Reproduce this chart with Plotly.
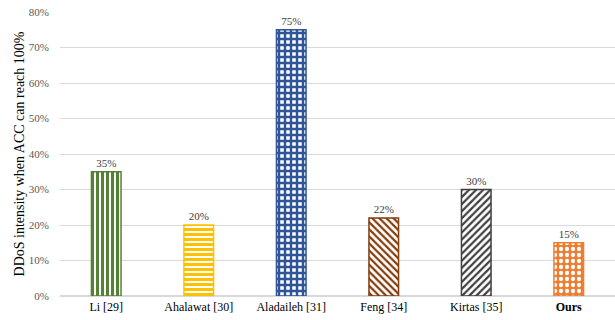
import plotly.graph_objects as go

# Comparison of DDoS intensity thresholds across methods
methods = ["Li [29]", "Ahalawat [30]", "Aladaileh [31]", "Feng [34]", "Kirtas [35]", "<b>Ours</b>"]
intensity = [35, 20, 75, 22, 30, 15]

colors = ["#548235", "#FFC000", "#2F5597", "#843C0C", "#404040", "#ED7D31"]
shapes = ["|", "-", "+", "\\", "/", "."]
bg = ["white", "white", "white", "white", "white", "#ED7D31"]
fg = ["#548235", "#FFC000", "#2F5597", "#843C0C", "#404040", "white"]
solid = [0.6, 0.6, 0.65, 0.45, 0.45, 0.4]
psize = [5, 5, 6, 5, 5, 6]

SERIF = "Liberation Serif, Times New Roman, serif"

fig = go.Figure()
for i, m in enumerate(methods):
    fig.add_trace(go.Bar(
        x=[m], y=[intensity[i]],
        width=0.32,
        marker=dict(
            color=bg[i],
            line=dict(color=colors[i], width=1.5),
            pattern=dict(shape=shapes[i], fgcolor=fg[i], bgcolor=bg[i],
                         size=psize[i], solidity=solid[i], fillmode="replace"),
        ),
        text=[f"{intensity[i]}%"],
        textposition="outside",
        textfont=dict(family=SERIF, size=11, color="#404040"),
        cliponaxis=False,
        showlegend=False,
    ))

fig.update_layout(
    width=615, height=320,
    margin=dict(l=60, r=0, t=12, b=24),
    plot_bgcolor="white", paper_bgcolor="white",
    font=dict(family=SERIF, size=11, color="#000000"),
)
fig.update_yaxes(
    range=[0, 80], dtick=10, ticksuffix="%",
    showgrid=True, gridcolor="#D9D9D9", gridwidth=1,
    zeroline=True, zerolinecolor="#D9D9D9",
    tickfont=dict(family=SERIF, size=11, color="#595959"),
    ticks="", ticklabelstandoff=10,
    title=dict(text="DDoS intensity when ACC can reach 100%",
               font=dict(family=SERIF, size=14, color="#000000"), standoff=0),
)
fig.update_xaxes(
    showline=True, linecolor="#D9D9D9",
    tickfont=dict(family=SERIF, size=12, color="#000000"),
    ticks="",
)

fig.write_html("out.html")
